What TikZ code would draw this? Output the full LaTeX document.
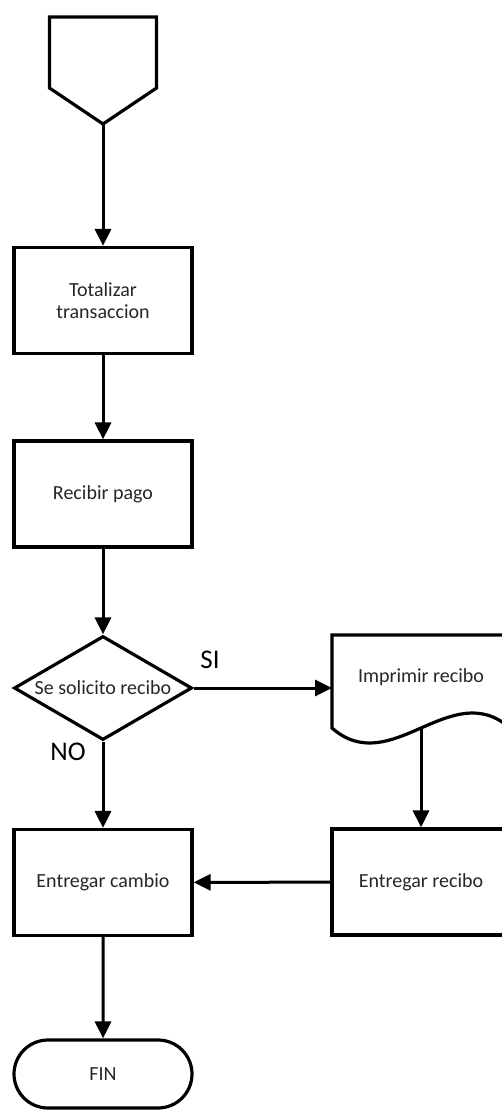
\documentclass[tikz,border=0pt]{standalone}
\usepackage{fontspec}
\setmainfont{Carlito}
\usetikzlibrary{arrows.meta,shapes.geometric,shapes.misc}

\begin{document}
\begin{tikzpicture}[x=1pt,y=-1pt,
    box/.style={draw,line width=3.2pt,minimum width=178pt,minimum height=106pt,inner sep=0pt,align=center,font=\fontsize{20}{22}\selectfont,text=black!85},
    flow/.style={line width=3pt,-{Triangle[width=16pt,length=17pt]}}]
    \useasboundingbox (0,0) rectangle (501,1111);

    % Off-page connector
    \draw[line width=3.2pt] (49.5,17) -- (156.5,17) -- (156.5,88) -- (103,124) -- (49.5,88) -- cycle;
    \coordinate (inicio) at (103,124);

    % Process boxes
    \node[box] (totalizar) at (103,300.5) {Totalizar\\transaccion};
    \node[box] (pago) at (103,494) {Recibir pago};
    \node[box,diamond,shape aspect=1.71,minimum height=104pt] (solicito) at (103,688) {Se solicito recibo};
    \node[box] (cambio) at (103,882.5) {Entregar cambio};
    \node[box] (recibo) at (421,882) {Entregar recibo};
    \node[box,rounded rectangle,minimum height=68pt] (fin) at (103,1074) {FIN};

    % Document shape
    \draw[line width=3.2pt] (332,635) -- (510,635) -- (510,728) .. controls (451,676) and (391,780) .. (332,728) -- cycle;
    \node[font=\fontsize{20}{22}\selectfont,text=black!85] (imprimir) at (421,677) {Imprimir recibo};
    \coordinate (docizq) at (332,688);
    \coordinate (docbase) at (421,728);

    % Connectors
    \draw[flow] (inicio) -- (totalizar);
    \draw[flow] (totalizar) -- (pago);
    \draw[flow] (pago) -- (solicito);
    \draw[flow] (solicito) -- (docizq);
    \draw[flow] (solicito) -- (cambio);
    \draw[flow] (docbase) -- (recibo);
    \draw[flow] (recibo) -- (cambio);
    \draw[flow] (cambio) -- (fin);

    % Branch labels
    \node[font=\fontsize{27}{29}\selectfont] (si) at (210,660) {SI};
    \node[font=\fontsize{27}{29}\selectfont] (no) at (68,752) {NO};
\end{tikzpicture}
\end{document}
